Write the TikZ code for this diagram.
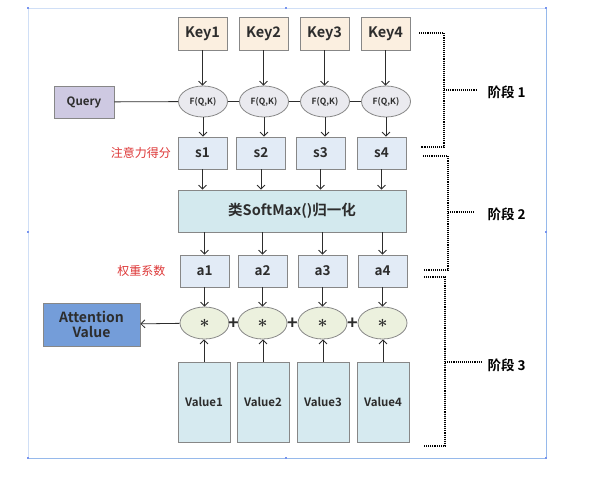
\documentclass[tikz,border=0pt]{standalone}
\usepackage{fontspec}
\setmainfont{Noto Sans CJK SC}[BoldFont={Noto Sans CJK SC Bold}]
\usetikzlibrary{shapes.geometric}
\usetikzlibrary{arrows.meta}

\definecolor{boxgray}{RGB}{135,135,135}
\definecolor{linedark}{RGB}{45,45,45}
\definecolor{keyfill}{RGB}{251,239,224}
\definecolor{queryfill}{RGB}{206,201,226}
\definecolor{fqkfill}{RGB}{234,234,239}
\definecolor{scorefill}{RGB}{226,235,246}
\definecolor{softfill}{RGB}{211,233,238}
\definecolor{mulfill}{RGB}{236,241,222}
\definecolor{attnfill}{RGB}{116,157,217}
\definecolor{valfill}{RGB}{214,234,240}
\definecolor{labelred}{RGB}{221,55,55}
\definecolor{frameblue}{RGB}{150,185,235}

\tikzset{
  box/.style={draw=boxgray, line width=0.8pt, inner sep=0pt, text=linedark},
  keybox/.style={box, fill=keyfill, minimum width=49pt, minimum height=33pt, font=\bfseries\fontsize{14.5}{16}\selectfont},
  fqk/.style={box, ellipse, fill=fqkfill, minimum width=49pt, minimum height=31pt, font=\bfseries\fontsize{8.5}{10}\selectfont},
  scorebox/.style={box, fill=scorefill, minimum width=49pt, minimum height=32pt, font=\bfseries\fontsize{13.5}{15}\selectfont},
  valbox/.style={box, fill=valfill, minimum width=52pt, minimum height=80pt, font=\bfseries\fontsize{11.5}{13}\selectfont},
  mulnode/.style={box, ellipse, fill=mulfill, minimum width=49pt, minimum height=32pt, font=\fontsize{19}{19}\selectfont\boldmath},
  arr/.style={-{Straight Barb[length=4pt,width=8pt]}, line width=0.8pt, draw=linedark},
  bracket/.style={densely dotted, line width=1.1pt},
  redlabel/.style={text=labelred, inner sep=0pt, anchor=east, font=\fontsize{12}{14}\selectfont},
  stage/.style={anchor=west, font=\bfseries\fontsize{13.5}{15}\selectfont}
}

\begin{document}
\begin{tikzpicture}[x=1pt,y=-1pt]

	\useasboundingbox (0,0) rectangle (593,493);

	% screenshot frame
	\draw [frameblue!45, line width=0.5pt] (546,8) -- (28,8) -- (28,458);
	\draw [frameblue, line width=0.6pt] (28,458) -- (546,458) -- (546,8);
	\foreach \hx/\hy in {28/8, 286/8, 546/8, 28/232, 546/232, 28/458, 286/458, 546/458}
		\fill [frameblue!80!blue] (\hx-1.2,\hy-1.2) rectangle (\hx+1.2,\hy+1.2);

	% stage 1: keys, query and scores
	\node [box, fill=queryfill, minimum width=60pt, minimum height=32pt, font=\bfseries\fontsize{11.5}{13}\selectfont] (query) at (84,102) {Query};
	\foreach \i/\kx/\sx in {1/202.5/202.5, 2/263.5/261, 3/324.5/320.5, 4/385.5/381.5} {
		\node [keybox] (key\i) at (\kx,33.5) {Key\i};
		\node [fqk] (fqk\i) at (\kx+0.5,101.5) {F(Q,K)};
		\node [scorebox] (s\i) at (\sx,153) {s\i};
		\draw [arr] (key\i) -- (key\i |- fqk\i.north);
		\draw [arr] (fqk\i) -- (fqk\i |- s\i.north);
	}
	\draw [line width=0.8pt, draw=linedark] (query) -- (fqk1);
	\foreach \i/\j in {1/2, 2/3, 3/4}
		\draw [line width=0.8pt, draw=linedark] (fqk\i) -- (fqk\j);
	\node [redlabel] (scorelabel) at (171,153) {注意力得分};

	% stage 2: normalisation
	\node [box, fill=softfill, minimum width=228pt, minimum height=42pt, font=\bfseries\fontsize{14.5}{16}\selectfont] (softmax) at (292,211) {类SoftMax()归一化};

	% stage 3: weights and weighted sum
	\foreach \i/\ax/\vx in {1/204.5/204, 2/262.5/263, 3/322.5/323, 4/382.5/383} {
		\node [scorebox] (a\i) at (\ax,271) {a\i};
		\node [mulnode] (mul\i) at (\ax,323) {$\ast$};
		\node [valbox] (val\i) at (\vx,402) {Value\i};
		\draw [arr] (s\i) -- (s\i |- softmax.north);
		\draw [arr] (a\i |- softmax.south) -- (a\i);
		\draw [arr] (a\i) -- (mul\i);
		\draw [arr] (val\i) -- (val\i |- mul\i.south);
	}
	\node [redlabel] (weightlabel) at (165.5,271) {权重系数};
	\foreach \i/\px in {1/233.5, 2/292.5, 3/352.5}
		\node [font=\bfseries\fontsize{18}{18}\selectfont, text=linedark, inner sep=0pt] (plus\i) at (\px,324) {+};
	\node [box, fill=attnfill, minimum width=97pt, minimum height=43pt, align=center, font=\bfseries\fontsize{14}{15}\selectfont] (attn) at (91.5,324.5) {Attention\\Value};
	\draw [arr] (mul1) -- (attn);

	% stage brackets
	\node [stage] (stageone) at (484,92) {阶段 1};
	\node [stage] (stagetwo) at (484,214) {阶段 2};
	\node [stage] (stagethree) at (484,365) {阶段 3};
	\draw [bracket] (419,33) -- (444,33) -- (444,147) -- (421,147);
	\draw [bracket, shorten >=7pt] (444,90) -- (stageone.west |- 444,90);
	\draw [bracket] (423,156) -- (448,156) -- (448,270) -- (424,270);
	\draw [bracket, shorten >=10pt] (448,212) -- (stagetwo.west |- 448,212);
	\draw [bracket] (424,277) -- (445,277) -- (445,446) -- (424,446);
	\draw [bracket, shorten >=3pt] (445,362) -- (stagethree.west |- 445,362);

\end{tikzpicture}
\end{document}
